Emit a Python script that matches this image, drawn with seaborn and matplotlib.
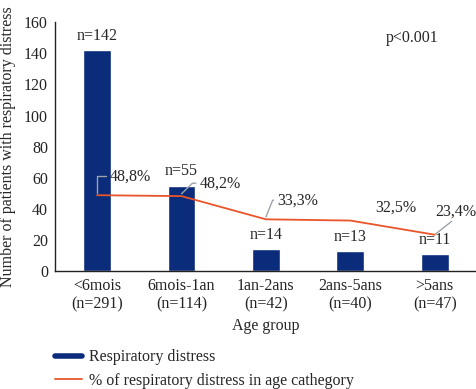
import matplotlib
matplotlib.use("Agg")
import matplotlib.pyplot as plt
import seaborn as sns
import pandas as pd
from matplotlib.lines import Line2D

categories = ["<6mois\n(n=291)", "6mois-1an\n(n=114)", "1an-2ans\n(n=42)", "2ans-5ans\n(n=40)", ">5ans\n(n=47)"]
counts = [142, 55, 14, 13, 11]
pct = [48.8, 48.2, 33.3, 32.5, 23.4]
pct_labels = ["48,8%", "48,2%", "33,3%", "32,5%", "23,4%"]
n_labels = ["n=142", "n=55", "n=14", "n=13", "n=11"]

sns.set_style("white")
plt.rcParams["font.family"] = ["Liberation Serif", "DejaVu Serif"]

BAR = "#0B2C7B"
LINE = "#E9552A"
GREY = "#9EA3AA"
FS = 11.5

fig = plt.figure(figsize=(4.77, 3.89), dpi=100)
ax = fig.add_axes([0.115, 0.303, 0.885, 0.640])

df = pd.DataFrame({"cat": categories, "count": counts, "pct": pct})
sns.barplot(data=df, x="cat", y="count", color=BAR, width=0.33, ax=ax, saturation=1)
sns.lineplot(x=list(range(len(categories))), y=pct, ax=ax, color=LINE, lw=1.3, sort=False)

ax.set_xlim(-0.5, 4.5)
ax.set_ylim(0, 160)
ax.set_yticks(range(0, 161, 20))
ax.tick_params(axis="both", length=0, labelsize=FS, colors="#222222", pad=5)
ax.set_ylabel("Number of patients with respiratory distress", fontsize=FS, labelpad=6)
ax.set_xlabel("Age group", fontsize=FS, labelpad=4)
for s in ["top", "right"]:
    ax.spines[s].set_visible(False)
for s in ["left", "bottom"]:
    ax.spines[s].set_color("#222222")
    ax.spines[s].set_linewidth(1.0)

for i, (c, t) in enumerate(zip(counts, n_labels)):
    ax.text(i, c + 4, t, ha="center", va="bottom", fontsize=FS)

# percent labels (text anchors) and leader lines (offsets relative to each point)
text_pos = [(0.15, 61), (1.22, 56.5), (2.14, 45.6), (3.29, 41), (4.0, 38)]
leader_paths = [
    [(0.0, 1.5), (0.0, 12.2), (0.10, 12.2)],
    [(0.0, 1.5), (0.13, 8.3), (0.17, 8.3)],
    [(0.0, 1.5), (0.08, 12.3), (0.09, 12.3)],
    None,
    [(0.01, 0.5), (0.2, 8.6)],
]
for i, (p, lab) in enumerate(zip(pct, pct_labels)):
    tx, ty = text_pos[i]
    ax.text(tx, ty, lab, fontsize=FS, ha="left", va="center")
    path = leader_paths[i]
    if path is not None:
        ax.plot([i + dx for dx, _ in path], [p + dy for _, dy in path], color=GREY, lw=1.0)

ax.text(3.73, 150, "p<0.001", fontsize=FS, ha="center", va="center")

handles = [Line2D([0], [0], color=BAR, lw=4), Line2D([0], [0], color=LINE, lw=1.3)]
fig.legend(handles, ["Respiratory distress", "% of respiratory distress in age cathegory"],
           loc="upper left", bbox_to_anchor=(0.102, 0.119), frameon=False,
           fontsize=FS, handlelength=1.7, handletextpad=0.4, labelspacing=0.5,
           borderaxespad=0)

fig.savefig("out.png", dpi=100)
